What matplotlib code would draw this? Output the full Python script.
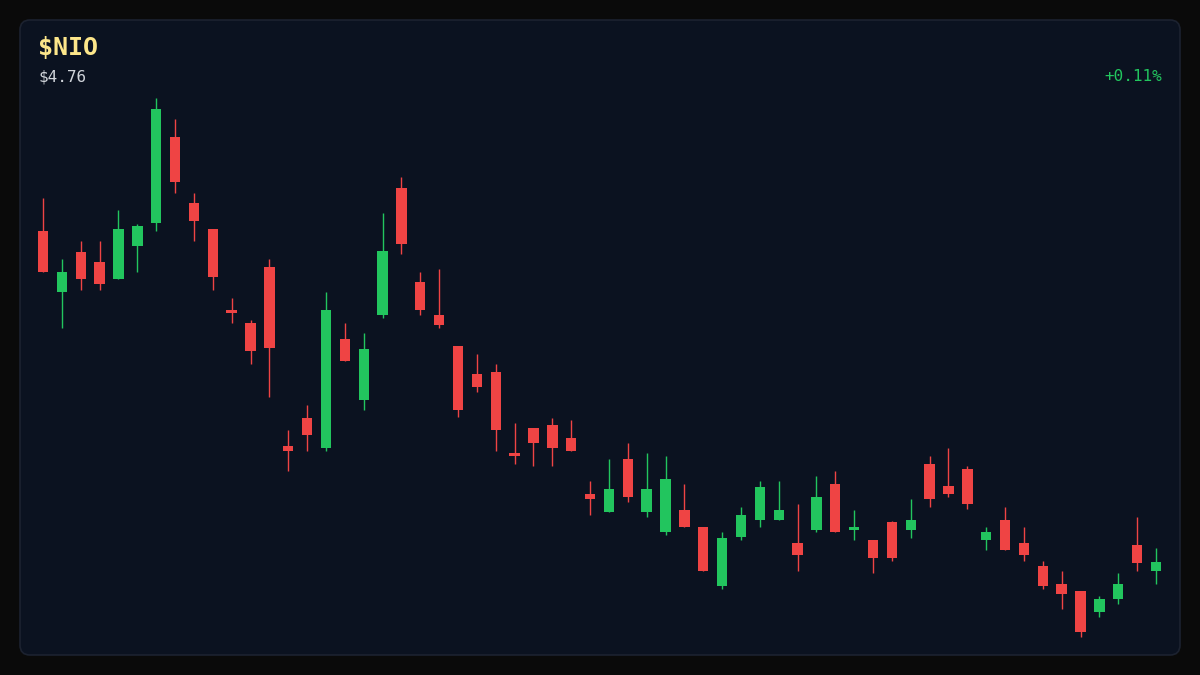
import numpy as np
import matplotlib
matplotlib.use("Agg")
import matplotlib.pyplot as plt
import matplotlib.patches as patches

# ── Datos OHLC (60 sesiones) ───────────────────────────
opens = [8.07, 7.46, 7.86, 7.76, 7.59, 7.92, 8.15, 9.01, 8.35, 8.09,
         7.28, 7.15, 7.71, 5.92, 6.20, 5.90, 6.99, 6.38, 7.23, 8.50,
         7.56, 7.23, 6.92, 6.64, 6.66, 5.85, 6.10, 6.13, 6.00, 5.44,
         5.26, 5.79, 5.26, 5.06, 5.28, 5.11, 4.52, 5.01, 5.18, 5.18,
         4.95, 5.08, 5.54, 5.08, 4.98, 5.16, 5.08, 5.74, 5.52, 5.69,
         4.98, 5.18, 4.95, 4.72, 4.54, 4.47, 4.26, 4.39, 4.93, 4.67]
highs = [8.40, 7.79, 7.97, 7.97, 8.28, 8.14, 9.40, 9.19, 8.45, 8.09,
         7.40, 7.18, 7.79, 6.08, 6.33, 7.46, 7.15, 7.05, 8.25, 8.61,
         7.66, 7.69, 6.92, 6.84, 6.74, 6.15, 6.10, 6.20, 6.18, 5.57,
         5.79, 5.95, 5.85, 5.82, 5.54, 5.11, 5.06, 5.31, 5.57, 5.57,
         5.34, 5.62, 5.67, 5.28, 4.98, 5.17, 5.39, 5.82, 5.90, 5.72,
         5.11, 5.31, 5.11, 4.77, 4.67, 4.47, 4.42, 4.65, 5.21, 4.90]
lows = [7.66, 7.10, 7.48, 7.48, 7.59, 7.66, 8.07, 8.45, 7.97, 7.48,
        7.15, 6.74, 6.41, 5.67, 5.87, 5.87, 6.77, 6.28, 7.20, 7.84,
        7.23, 7.10, 6.21, 6.46, 5.87, 5.74, 5.72, 5.72, 5.87, 5.23,
        5.26, 5.36, 5.21, 5.03, 5.11, 4.67, 4.49, 4.98, 5.11, 5.18,
        4.67, 5.06, 5.06, 4.98, 4.65, 4.77, 5.00, 5.31, 5.41, 5.29,
        4.88, 4.88, 4.77, 4.49, 4.29, 4.01, 4.21, 4.34, 4.67, 4.54]
closes = [7.66, 7.66, 7.59, 7.54, 8.09, 8.12, 9.29, 8.56, 8.17, 7.61,
          7.25, 6.87, 6.90, 5.87, 6.03, 7.28, 6.77, 6.89, 7.87, 7.94,
          7.28, 7.13, 6.28, 6.51, 6.08, 5.82, 5.95, 5.90, 5.87, 5.39,
          5.49, 5.41, 5.49, 5.59, 5.11, 4.67, 5.00, 5.23, 5.51, 5.28,
          4.83, 5.41, 5.06, 5.11, 4.80, 4.80, 5.18, 5.39, 5.44, 5.34,
          5.06, 4.88, 4.83, 4.52, 4.44, 4.06, 4.39, 4.54, 4.75, 4.76]

ticker = "$NIO"
last_price = "$4.76"
change_pct = "+0.11%"

# ── Colores ────────────────────────────────────────────
UP = '#22c55e'
DOWN = '#ef4444'
BG_OUT = '#0a0a0a'
BG_PANEL = '#0b1220'

o = np.array(opens)
h = np.array(highs)
l = np.array(lows)
c = np.array(closes)
x = np.arange(len(o))
up = c >= o
colors = np.where(up, UP, DOWN)

# ── Figura ─────────────────────────────────────────────
fig = plt.figure(figsize=(12, 6.75), dpi=100)
fig.patch.set_facecolor(BG_OUT)

panel = patches.FancyBboxPatch((20, 20), 1160, 635,
                               boxstyle='round,pad=0,rounding_size=10',
                               transform=None, facecolor=BG_PANEL,
                               edgecolor='#1c2230', linewidth=1.2, zorder=-10)
fig.patches.append(panel)

ax = fig.add_axes([0.02798, 0.0567, 0.9432, 0.798])
ax.set_facecolor('none')
ax.set_zorder(1)

# Mechas
ax.vlines(x, l, h, colors=colors, linewidth=1.0, zorder=2, clip_on=False)

# Cuerpos
body_bottom = np.minimum(o, c)
body_height = np.maximum(np.abs(c - o), 0.02)
ax.bar(x, body_height, bottom=body_bottom, width=0.55, color=colors,
       linewidth=0, zorder=3, clip_on=False)

ax.set_xlim(-0.5, len(o) - 0.5)
ax.set_ylim(l.min(), h.max())
ax.axis('off')

# Textos
mono = 'DejaVu Sans Mono'
fig.text(38 / 1200, 1 - 36 / 675, ticker, color='#fde68a', fontsize=18,
         fontweight='bold', family=mono, ha='left', va='top', zorder=5)
fig.text(38 / 1200, 1 - 69 / 675, last_price, color='#d1d5db', fontsize=11.5,
         family=mono, ha='left', va='top', zorder=5)
fig.text(1162 / 1200, 1 - 69 / 675, change_pct, color=UP, fontsize=11.5,
         family=mono, ha='right', va='top', zorder=5)

plt.savefig('out.png', dpi=100, facecolor=BG_OUT)
